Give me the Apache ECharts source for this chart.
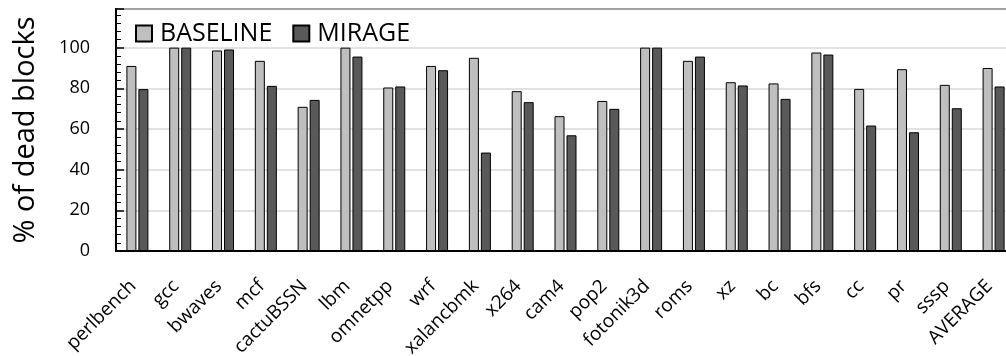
<!DOCTYPE html>
<html>
<head>
<meta charset="utf-8">
<script src="https://cdn.jsdelivr.net/npm/echarts@6/dist/echarts.min.js"></script>
<style>
html,body{margin:0;padding:0;background:#fff;}
#chart{width:1006px;height:356px;}
</style>
</head>
<body>
<div id="chart"></div>
<script>
const categories = ["perlbench","gcc","bwaves","mcf","cactuBSSN","lbm","omnetpp","wrf","xalancbmk","x264","cam4","pop2","fotonik3d","roms","xz","bc","bfs","cc","pr","sssp","AVERAGE"];
const baseline = [91.0,100,98.6,93.5,70.9,100,80.4,91.0,95.0,78.6,66.3,73.8,100,93.5,83.0,82.4,97.6,79.7,89.4,81.7,90.0];
const mirage   = [79.6,100,99.1,81.2,74.3,95.6,80.9,88.9,48.4,73.2,56.9,69.9,100,95.6,81.4,74.8,96.6,61.7,58.4,70.2,80.9];
const yTicks = [0,20,40,60,80,100];

const FONT = "'Open Sans', sans-serif";
const chart = echarts.init(document.getElementById('chart'), null, {renderer:'canvas'});
chart.setOption({
  animation:false,
  backgroundColor:'#fff',
  textStyle:{fontFamily:FONT},
  legend:{
    left:130, top:16,
    itemWidth:16, itemHeight:16, itemGap:20,
    icon:'rect',
    textStyle:{fontSize:25, color:'#000', fontFamily:FONT, padding:[0,0,0,3]},
    data:['BASELINE','MIRAGE']
  },
  grid:{left:116, right:-9, top:9, bottom:105, show:true, borderColor:'#000', borderWidth:2,
        containLabel:false, outerBoundsMode:'none'},
  xAxis:{
    type:'category', data:categories,
    axisLine:{show:true, lineStyle:{color:'#000', width:2}},
    axisTick:{show:false},
    axisLabel:{rotate:45, fontSize:19, color:'#000', margin:28, padding:[0,6,0,0], interval:0, fontFamily:FONT}
  },
  yAxis:{
    type:'value', min:0, max:119, interval:20,
    name:'% of dead blocks', nameLocation:'middle', nameGap:76,
    nameTextStyle:{fontSize:29, color:'#000', fontFamily:FONT},
    axisLine:{show:true, lineStyle:{color:'#000', width:1.5}},
    axisTick:{show:true, inside:true, length:8, lineStyle:{color:'#000', width:1.5}},
    minorTick:{show:true, splitNumber:5, length:5, lineStyle:{color:'#000', width:1}},
    axisLabel:{fontSize:18, color:'#000', margin:26, fontFamily:FONT,
      formatter:function(v){return yTicks.indexOf(v)>=0 ? String(v) : '';}},
    splitLine:{show:true, lineStyle:{color:'#d9d9d9', width:1.5}}
  },
  series:[
    {name:'BASELINE', type:'bar', data:baseline, barWidth:10, barGap:'20%',
     itemStyle:{color:'#bfbfbf', borderColor:'#000', borderWidth:1}},
    {name:'MIRAGE', type:'bar', data:mirage, barWidth:10,
     itemStyle:{color:'#595959', borderColor:'#000', borderWidth:1}}
  ]
});
</script>
</body>
</html>
